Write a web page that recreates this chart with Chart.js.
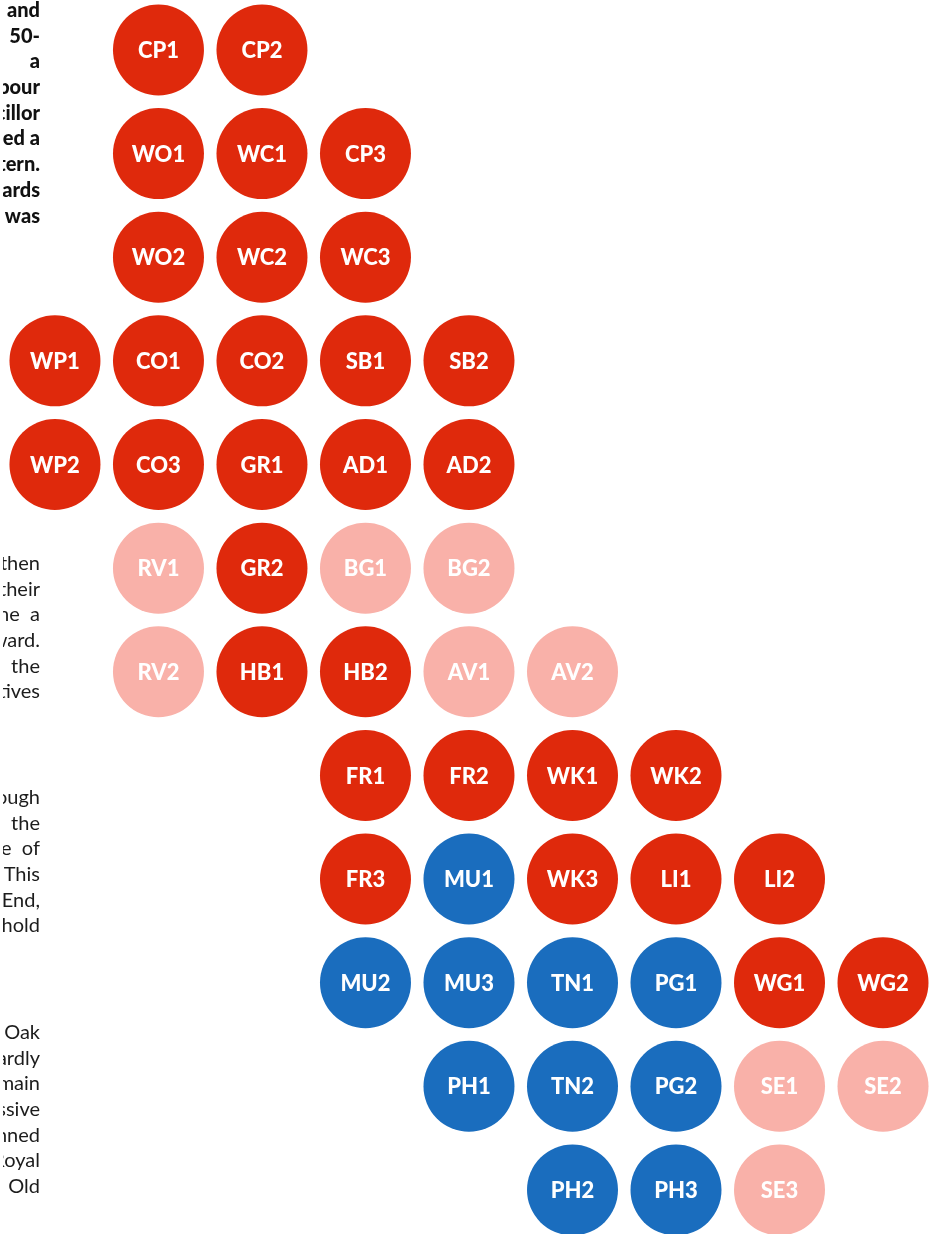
<!DOCTYPE html>
<html>
<head>
<meta charset="utf-8">
<script src="https://cdn.jsdelivr.net/npm/chart.js"></script>
<style>
	html, body { margin: 0; padding: 0; background: #fff; }
	body { width: 933px; height: 1234px; position: relative; overflow: hidden; font-family: Lato, "Noto Sans", sans-serif; }
	#wardChart { position: absolute; left: 0; top: 0; }
	.para { position: absolute; left: 3px; width: 37px; overflow: hidden; font-size: 20px; line-height: 25.7px; color: #1c1c1c; }
	.para.bold { font-weight: 900; color: #111; }
	.para .line { display: flex; justify-content: flex-end; height: 25.7px; }
	.para .line span { flex-shrink: 0; white-space: pre; }
</style>
</head>
<body>
<canvas id="wardChart" width="933" height="1234"></canvas>
<script>
// ward codes, in reading order of the grid
const wards = [
	'CP1', 'CP2',
	'WO1', 'WC1', 'CP3',
	'WO2', 'WC2', 'WC3',
	'WP1', 'CO1', 'CO2', 'SB1', 'SB2',
	'WP2', 'CO3', 'GR1', 'AD1', 'AD2',
	'RV1', 'GR2', 'BG1', 'BG2',
	'RV2', 'HB1', 'HB2', 'AV1', 'AV2',
	'FR1', 'FR2', 'WK1', 'WK2',
	'FR3', 'MU1', 'WK3', 'LI1', 'LI2',
	'MU2', 'MU3', 'TN1', 'PG1', 'WG1', 'WG2',
	'PH1', 'TN2', 'PG2', 'SE1', 'SE2',
	'PH2', 'PH3', 'SE3'
];
const gridCol = [
	1, 2,
	1, 2, 3,
	1, 2, 3,
	0, 1, 2, 3, 4,
	0, 1, 2, 3, 4,
	1, 2, 3, 4,
	1, 2, 3, 4, 5,
	3, 4, 5, 6,
	3, 4, 5, 6, 7,
	3, 4, 5, 6, 7, 8,
	4, 5, 6, 7, 8,
	5, 6, 7
];
const gridRow = [
	0, 0,
	1, 1, 1,
	2, 2, 2,
	3, 3, 3, 3, 3,
	4, 4, 4, 4, 4,
	5, 5, 5, 5,
	6, 6, 6, 6, 6,
	7, 7, 7, 7,
	8, 8, 8, 8, 8,
	9, 9, 9, 9, 9, 9,
	10, 10, 10, 10, 10,
	11, 11, 11
];
const result = [
	'red', 'red',
	'red', 'red', 'red',
	'red', 'red', 'red',
	'red', 'red', 'red', 'red', 'red',
	'red', 'red', 'red', 'red', 'red',
	'pink', 'red', 'pink', 'pink',
	'pink', 'red', 'red', 'pink', 'pink',
	'red', 'red', 'red', 'red',
	'red', 'blue', 'red', 'red', 'red',
	'blue', 'blue', 'blue', 'blue', 'red', 'red',
	'blue', 'blue', 'blue', 'pink', 'pink',
	'blue', 'blue', 'pink'
];

// cut-off article text on the left
const paraBold = ['and', '50-', 'a', 'Labour', 'Councillor', 'gained a', 'pattern.', 'towards', 'was'];
const paraTwo = ['then', 'their', 'become  a', 'ward.', 'in  the', 'representatives'];
const paraThree = ['through', 'the', 'one  of', 'This', 'End,', 'stronghold'];
const paraFour = ['Oak', 'hardly', 'remain', 'successive', 'planned', 'Royal', 'Old'];

const colours = { red: '#df290c', pink: '#f9b1a9', blue: '#1a6dbe' };

function addPara(lines, top, bold) {
	let div = document.createElement('div');
	div.className = bold ? 'para bold' : 'para';
	div.style.top = top + 'px';
	lines.forEach(t => {
		let line = document.createElement('div');
		line.className = 'line';
		let span = document.createElement('span');
		span.innerText = t;
		line.appendChild(span);
		div.appendChild(line);
	});
	document.body.appendChild(div);
}
addPara(paraBold, -3, true);
addPara(paraTwo, 550, false);
addPara(paraThree, 784, false);
addPara(paraFour, 1019, false);

// writes the ward code in the middle of each circle
const wardLabels = {
	id: 'wardLabels',
	afterDatasetsDraw(chart) {
		const ctx = chart.ctx;
		const meta = chart.getDatasetMeta(0);
		ctx.save();
		ctx.font = '900 22px Lato';
		ctx.fillStyle = '#fff';
		ctx.textAlign = 'center';
		ctx.textBaseline = 'middle';
		meta.data.forEach((pt, i) => {
			ctx.fillText(wards[i], pt.x, pt.y + 1);
		});
		ctx.restore();
	}
};

new Chart(document.getElementById('wardChart'), {
	type: 'scatter',
	data: {
		datasets: [{
			data: wards.map((w, i) => ({ x: gridCol[i], y: gridRow[i] })),
			backgroundColor: result.map(r => colours[r]),
			pointRadius: 45.5,
			pointHoverRadius: 45.5,
			borderWidth: 0,
			clip: false
		}]
	},
	options: {
		responsive: false,
		animation: false,
		devicePixelRatio: 1,
		events: [],
		layout: { padding: 0, autoPadding: false },
		plugins: {
			legend: { display: false },
			tooltip: { enabled: false }
		},
		scales: {
			x: { type: 'linear', display: false, min: -0.531, max: 8.483 },
			y: { type: 'linear', display: false, reverse: true, min: -0.482, max: 11.425 }
		}
	},
	plugins: [wardLabels]
});
</script>
</body>
</html>
